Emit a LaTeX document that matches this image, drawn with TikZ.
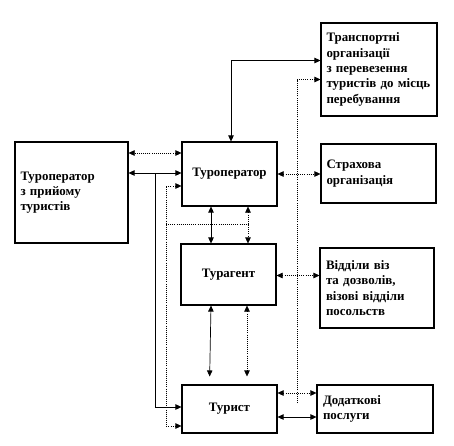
\documentclass[tikz,border=0pt]{standalone}
\usepackage{fontspec}
\setmainfont{Liberation Serif}
\usetikzlibrary{arrows.meta,calc}
\begin{document}
\begin{tikzpicture}[x=1pt,y=-1pt,
  >={Triangle[length=6pt,width=5.5pt]},
  box/.style={draw,line width=1.1pt,inner sep=0pt,font=\bfseries\fontsize{12.9}{15.3}\selectfont},
  lbox/.style={box,align=left,inner xsep=5.5pt},
  sol/.style={line width=0.7pt},
  dot/.style={line width=0.6pt,dash pattern=on 1pt off 1.1pt},
]
\useasboundingbox[fill=white] (0,0) rectangle (454,445);

% boxes
\node[lbox,text width=102pt,minimum height=101pt] (prijom) at (71.5,192.5) {Туроператор\\з прийому\\туристів};
\node[box,minimum width=95pt,minimum height=64pt] (toper) at (229.5,174) {Туроператор};
\node[box,minimum width=95pt,minimum height=61pt] (agent) at (228.5,274.5) {Турагент};
\node[box,minimum width=95pt,minimum height=48pt] (turyst) at (229.5,409) {Турист};
\node[lbox,text width=105pt,minimum height=93pt] (transp) at (379,69.5) {Транспортні\\організації\\з перевезення\\туристів до місць\\перебування};
\node[lbox,text width=104pt,minimum height=59pt] (strakh) at (378.5,173.5) {Страхова\\організація};
\node[lbox,text width=102pt,minimum height=80pt,inner xsep=6pt] (viddily) at (377,288) {Відділи віз\\та дозволів,\\візові відділи\\посольств};
\node[lbox,text width=104pt,minimum height=48pt,inner xsep=6pt] (dodatk) at (375,409) {Додаткові\\послуги};

% top connectors
\draw[sol,<->] ([xshift=1.5pt]toper.north) |- ([yshift=9pt]transp.west);
\coordinate (dbot) at (297,403);
\draw[dot,->] (dbot) |- ([yshift=-10pt]transp.west);

% right connectors
\draw[dot,<->] (toper.east) -- (toper.east -| strakh.west);
\draw[dot,<->] ([yshift=-1pt]agent.east) -- ([yshift=-1pt]agent.east -| viddily.west);
\draw[dot,<->] ([yshift=16pt]turyst.east) -- ([yshift=16pt]turyst.east -| dodatk.west);
\draw[sol,<->] ([yshift=-8pt]turyst.east) -- ([yshift=-8pt]turyst.east -| dodatk.west);

% left connectors
\draw[dot,<->] ([yshift=21pt]toper.west) -- ([yshift=21pt]toper.west -| prijom.east);
\draw[sol,<->] ([yshift=1pt]toper.west) -- ([yshift=1pt]toper.west -| prijom.east);
\coordinate (sv) at (155,173);
\draw[sol,->] (sv) |- ([yshift=2pt]turyst.west);
\coordinate (dv) at (166,300);
\draw[dot,<->] ([yshift=-12pt]toper.west) -| (dv) |- ([yshift=-17pt]turyst.west);
\coordinate (dh) at (248,224);
\draw[dot] (dv |- dh) -- (dh);

% vertical pairs
\draw[sol,<->] ([xshift=-18.5pt]toper.south) -- ([xshift=-17.5pt]agent.north);
\draw[dot,<->] ([xshift=18.5pt]toper.south) -- ([xshift=19.5pt]agent.north);
\draw[sol,<->,shorten >=8pt] ([xshift=-17.5pt]agent.south) -- ([xshift=-20pt]turyst.north);
\draw[dot,<->,shorten >=8pt] ([xshift=18.5pt]agent.south) -- ([xshift=17.5pt]turyst.north);
\end{tikzpicture}
\end{document}
